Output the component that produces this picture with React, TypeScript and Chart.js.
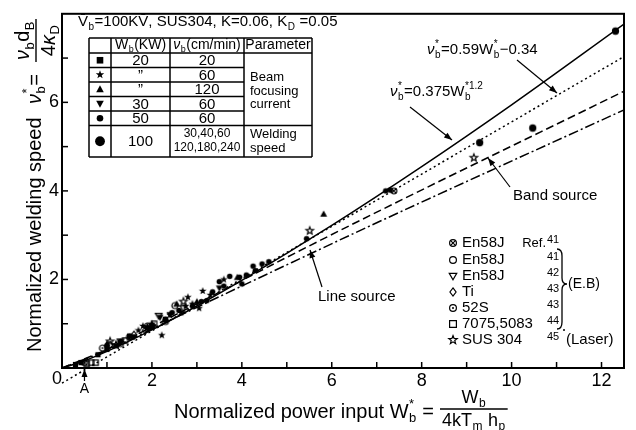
import React, { useEffect, useRef } from "react";
import { Chart, registerables } from "chart.js";
Chart.register(...registerables);

const FONT = '"Liberation Sans", Arial, sans-serif';

// axes
const X_MIN = 0;
const X_MAX = 12.5;
const Y_MIN = 0;
const Y_MAX = 8;
const xTickValues = [2, 4, 6, 8, 10, 12];
const yTickValues = [2, 4, 6];

// fitted / theoretical curves
const powerLawW = [0, 0.5, 1, 2, 3, 4, 6, 8, 10, 12.5];
const powerLawV = [0, 0.163, 0.375, 0.861, 1.401, 1.979, 3.22, 4.547, 5.943, 7.767];
const linearFitW = [0, 12.5];
const linearFitV = [-0.34, 7.035];
const bandW = [0, 1, 2, 3, 5, 7, 12.5];
const bandV = [0, 0.42, 0.93, 1.45, 2.5, 3.52, 6.25];
const lineSrcW = [0, 1, 2, 3, 5, 7, 12.5];
const lineSrcV = [0, 0.4, 0.88, 1.37, 2.33, 3.28, 5.83];

// SUS304 data (filled symbols)
const sqW = [0.3, 0.42, 0.8, 1.0, 1.2, 1.5, 1.9, 2.3];
const sqV = [0.08, 0.12, 0.3, 0.42, 0.5, 0.72, 0.9, 1.1];
const starW = [1.7, 1.8, 2.0, 2.22, 2.4, 2.65, 2.75, 2.8, 2.9, 3.05, 3.13, 3.3, 3.6];
const starV = [0.85, 0.95, 1.0, 0.74, 1.2, 1.25, 1.4, 1.6, 1.45, 1.35, 1.74, 1.65, 2.0];
const triW = [1.0, 1.9, 2.55, 3.0, 3.9, 5.82];
const triV = [0.55, 0.95, 1.45, 1.5, 2.05, 3.48];
const dtriW = [1.6, 2.18, 2.4, 3.5];
const dtriV = [0.7, 1.14, 1.2, 1.8];
const dotW = [1.0, 1.3, 2.0, 2.3, 2.45, 2.6, 2.9, 3.1, 3.22, 3.35, 3.5, 3.6, 3.73, 3.95, 4.0, 4.1, 4.25, 4.3, 4.45, 4.6, 5.44, 7.2, 7.3];
const dotV = [0.5, 0.6, 0.93, 1.1, 1.25, 1.3, 1.4, 1.5, 1.52, 1.72, 1.95, 1.85, 2.07, 2.05, 1.9, 2.1, 2.3, 2.2, 2.35, 2.4, 2.92, 4.0, 4.02];
const bigDotW = [9.29, 10.47, 12.31];
const bigDotV = [5.09, 5.42, 7.61];

// literature data (open symbols)
const en58xW = [0.5, 2.0, 7.38];
const en58xV = [0.12, 0.95, 4.0];
const en58oW = [1.5, 1.9, 2.51];
const en58oV = [0.7, 0.95, 1.41];
const en58vW = [1.3, 2.15, 2.7];
const en58vV = [0.6, 1.18, 1.35];
const tiW = [1.07, 1.6, 1.85];
const tiV = [0.52, 0.75, 0.85];
const s52W = [0.9, 1.3, 2.3];
const s52V = [0.45, 0.55, 1.05];
const alW = [0.55, 0.65, 0.75, 1.4, 2.05];
const alV = [0.1, 0.12, 0.12, 0.62, 1.0];
const susLaserW = [1.07, 1.2, 2.7, 5.51, 9.16];
const susLaserV = [0.6, 0.52, 1.5, 3.1, 4.75];

// table & legend text
const tableKinds = ["sq", "star", "tri", "dtri", "dot", "bigdot"];
const tablePower = ["20", "\u201D", "\u201D", "30", "50", "100"];
const tableSpeed = ["20", "60", "120", "60", "60", ""];
const tableSpeedMulti = ["30,40,60", "120,180,240"];
const legendKinds = ["oxc", "oc", "odtri", "odia", "odot", "osq", "ostar"];
const legendNames = ["En58J", "En58J", "En58J", "Ti", "52S", "7075,5083", "SUS 304"];
const legendRefs = ["41", "41", "42", "43", "43", "44", "45"];

type Kind = string;

function starPath(ctx: CanvasRenderingContext2D, cx: number, cy: number, R: number, r: number) {
  for (let i = 0; i < 10; i++) {
    const a = -Math.PI / 2 + (i * Math.PI) / 5;
    const rr = i % 2 === 0 ? R : r;
    const x = cx + rr * Math.cos(a);
    const y = cy + rr * Math.sin(a);
    if (i === 0) ctx.moveTo(x, y);
    else ctx.lineTo(x, y);
  }
  ctx.closePath();
}

function drawSym(ctx: CanvasRenderingContext2D, kind: Kind, cx: number, cy: number, s: number) {
  ctx.save();
  ctx.fillStyle = "#000";
  ctx.strokeStyle = "#000";
  ctx.lineWidth = 1.2;
  ctx.beginPath();
  switch (kind) {
    case "sq":
      ctx.rect(cx - s, cy - s, 2 * s, 2 * s);
      ctx.fill();
      break;
    case "star":
      starPath(ctx, cx, cy, s * 1.35, s * 0.55);
      ctx.fill();
      break;
    case "tri":
      ctx.moveTo(cx, cy - s * 1.2);
      ctx.lineTo(cx + s * 1.15, cy + s * 0.9);
      ctx.lineTo(cx - s * 1.15, cy + s * 0.9);
      ctx.closePath();
      ctx.fill();
      break;
    case "dtri":
      ctx.moveTo(cx, cy + s * 1.2);
      ctx.lineTo(cx + s * 1.15, cy - s * 0.9);
      ctx.lineTo(cx - s * 1.15, cy - s * 0.9);
      ctx.closePath();
      ctx.fill();
      break;
    case "dot":
      ctx.arc(cx, cy, s, 0, Math.PI * 2);
      ctx.fill();
      break;
    case "bigdot":
      ctx.arc(cx, cy, s * 1.4, 0, Math.PI * 2);
      ctx.fill();
      break;
    case "oxc":
      ctx.arc(cx, cy, s, 0, Math.PI * 2);
      ctx.stroke();
      ctx.beginPath();
      ctx.moveTo(cx - s * 0.7, cy - s * 0.7);
      ctx.lineTo(cx + s * 0.7, cy + s * 0.7);
      ctx.moveTo(cx + s * 0.7, cy - s * 0.7);
      ctx.lineTo(cx - s * 0.7, cy + s * 0.7);
      ctx.stroke();
      break;
    case "oc":
      ctx.arc(cx, cy, s, 0, Math.PI * 2);
      ctx.stroke();
      break;
    case "odtri":
      ctx.moveTo(cx, cy + s * 1.1);
      ctx.lineTo(cx + s * 1.1, cy - s * 0.8);
      ctx.lineTo(cx - s * 1.1, cy - s * 0.8);
      ctx.closePath();
      ctx.stroke();
      break;
    case "odia":
      ctx.moveTo(cx, cy - s * 1.2);
      ctx.lineTo(cx + s * 0.9, cy);
      ctx.lineTo(cx, cy + s * 1.2);
      ctx.lineTo(cx - s * 0.9, cy);
      ctx.closePath();
      ctx.stroke();
      break;
    case "odot":
      ctx.arc(cx, cy, s, 0, Math.PI * 2);
      ctx.stroke();
      ctx.beginPath();
      ctx.arc(cx, cy, s * 0.3, 0, Math.PI * 2);
      ctx.fill();
      break;
    case "osq":
      ctx.rect(cx - s, cy - s, 2 * s, 2 * s);
      ctx.stroke();
      break;
    case "ostar":
      starPath(ctx, cx, cy, s * 1.3, s * 0.55);
      ctx.stroke();
      break;
  }
  ctx.restore();
}

function symCanvas(kind: Kind, s: number): HTMLCanvasElement {
  const size = Math.ceil(s * 3.2 + 4);
  const c = document.createElement("canvas");
  c.width = size;
  c.height = size;
  const g = c.getContext("2d")!;
  drawSym(g, kind, size / 2, size / 2, s);
  return c;
}

type Seg = string | { it: string } | { sub?: string; sup?: string };

function drawRich(ctx: CanvasRenderingContext2D, segs: Seg[], x: number, y: number, size: number, draw = true): number {
  let cx = x;
  ctx.textBaseline = "middle";
  ctx.textAlign = "left";
  for (const seg of segs) {
    if (typeof seg === "string") {
      ctx.font = `${size}px ${FONT}`;
      if (draw) ctx.fillText(seg, cx, y);
      cx += ctx.measureText(seg).width;
    } else if ("it" in seg) {
      ctx.font = `italic ${size}px ${FONT}`;
      if (draw) ctx.fillText(seg.it, cx, y);
      cx += ctx.measureText(seg.it).width;
    } else {
      const ss = Math.round(size * 0.64);
      ctx.font = `${ss}px ${FONT}`;
      let w = 0;
      if (seg.sub) {
        if (draw) ctx.fillText(seg.sub, cx + 0.5, y + size * 0.32);
        w = Math.max(w, ctx.measureText(seg.sub).width);
      }
      if (seg.sup) {
        if (draw) ctx.fillText(seg.sup, cx + 0.5, y - size * 0.4);
        w = Math.max(w, ctx.measureText(seg.sup).width);
      }
      cx += w + 1;
    }
  }
  return cx - x;
}

function drawFrac(ctx: CanvasRenderingContext2D, num: Seg[], den: Seg[], x: number, y: number, size: number): number {
  const wn = drawRich(ctx, num, 0, 0, size, false);
  const wd = drawRich(ctx, den, 0, 0, size, false);
  const w = Math.max(wn, wd) + 4;
  drawRich(ctx, num, x + (w - wn) / 2, y - size * 0.62, size);
  drawRich(ctx, den, x + (w - wd) / 2, y + size * 0.66, size);
  ctx.beginPath();
  ctx.lineWidth = 1.4;
  ctx.moveTo(x, y);
  ctx.lineTo(x + w, y);
  ctx.stroke();
  return w;
}

function arrow(ctx: CanvasRenderingContext2D, x1: number, y1: number, x2: number, y2: number) {
  ctx.beginPath();
  ctx.lineWidth = 1.2;
  ctx.moveTo(x1, y1);
  ctx.lineTo(x2, y2);
  ctx.stroke();
  const a = Math.atan2(y2 - y1, x2 - x1);
  const L = 8, W = 3;
  ctx.beginPath();
  ctx.moveTo(x2, y2);
  ctx.lineTo(x2 - L * Math.cos(a) + W * Math.sin(a), y2 - L * Math.sin(a) - W * Math.cos(a));
  ctx.lineTo(x2 - L * Math.cos(a) - W * Math.sin(a), y2 - L * Math.sin(a) + W * Math.cos(a));
  ctx.closePath();
  ctx.fill();
}

function line(ctx: CanvasRenderingContext2D, x1: number, y1: number, x2: number, y2: number) {
  ctx.beginPath();
  ctx.moveTo(x1, y1);
  ctx.lineTo(x2, y2);
  ctx.stroke();
}

const NU: Seg = { it: "\u03BD" };
const BS: Seg = { sub: "b", sup: "*" };

const overlay = {
  id: "overlay",
  afterDraw(chart: any) {
    const ctx: CanvasRenderingContext2D = chart.ctx;
    const { left, right, top, bottom } = chart.chartArea;
    const xs = chart.scales.x;
    const ys = chart.scales.y;
    ctx.save();
    ctx.strokeStyle = "#000";
    ctx.fillStyle = "#000";

    // frame
    ctx.lineWidth = 2;
    ctx.strokeRect(left, top, right - left, bottom - top);
    // inward ticks
    ctx.lineWidth = 1.5;
    for (let v = 1; v <= 12; v++) {
      const px = xs.getPixelForValue(v);
      line(ctx, px, bottom, px, bottom - 6);
    }
    for (let v = 1; v <= 7; v++) {
      const py = ys.getPixelForValue(v);
      line(ctx, left, py, left + 6, py);
    }
    // corner zero
    ctx.font = `18px ${FONT}`;
    ctx.textAlign = "center";
    ctx.textBaseline = "middle";
    ctx.fillText("0", left - 5, bottom + 11);

    // "A" marker
    const ax = xs.getPixelForValue(0.5);
    arrow(ctx, ax, bottom + 13, ax, bottom + 1);
    ctx.font = `14px ${FONT}`;
    ctx.textAlign = "center";
    ctx.fillText("A", ax, bottom + 21);

    // x title
    let cx = 174;
    const ty = 412;
    cx += drawRich(ctx, ["Normalized power input W", BS, " ="], cx, ty, 20);
    drawFrac(ctx, ["W", { sub: "b" }], ["4kT", { sub: "m" }, " h", { sub: "p" }], cx + 6, ty - 3, 18);

    // y title (rotated)
    ctx.save();
    ctx.translate(35, 352);
    ctx.rotate(-Math.PI / 2);
    drawRich(ctx, ["Normalized welding speed"], 0, 0, 20);
    drawRich(ctx, [NU, BS, "="], 248, 0, 20);
    drawFrac(ctx, [NU, { sub: "b" }, "d", { sub: "B" }], ["4", { it: "\u03BA" }, { sub: "D" }], 290, 1, 20);
    ctx.restore();

    // title line of table
    drawRich(ctx, ["V\u0304", { sub: "b" }, "=100KV\u0304, SUS304, K=0.06, K", { sub: "D" }, " =0.05"], 78, 22, 15);

    // table
    const cols = [89, 111, 170, 244, 312];
    const rows = [38, 53, 67.5, 82, 96.5, 111, 125.5, 157];
    ctx.lineWidth = 1.5;
    for (const c of cols) line(ctx, c, rows[0], c, rows[7]);
    line(ctx, cols[0], rows[0], cols[4], rows[0]);
    line(ctx, cols[0], rows[1], cols[4], rows[1]);
    for (let i = 2; i <= 5; i++) line(ctx, cols[0], rows[i], cols[3], rows[i]);
    line(ctx, cols[0], rows[6], cols[4], rows[6]);
    line(ctx, cols[0], rows[7], cols[4], rows[7]);

    ctx.textAlign = "left";
    const hy = (rows[0] + rows[1]) / 2;
    const h1: Seg[] = ["W", { sub: "b" }, "(KW)"];
    const h2: Seg[] = [NU, { sub: "b" }, "(cm/min)"];
    const w1 = drawRich(ctx, h1, 0, 0, 14, false);
    drawRich(ctx, h1, (cols[1] + cols[2]) / 2 - w1 / 2, hy, 14);
    const w2 = drawRich(ctx, h2, 0, 0, 14, false);
    drawRich(ctx, h2, (cols[2] + cols[3]) / 2 - w2 / 2, hy, 14);
    const w3 = drawRich(ctx, ["Parameter"], 0, 0, 14, false);
    drawRich(ctx, ["Parameter"], (cols[3] + cols[4]) / 2 - w3 / 2, hy, 14);

    for (let i = 0; i < 6; i++) {
      const yc = (rows[i + 1] + rows[i + 2]) / 2;
      drawSym(ctx, tableKinds[i], (cols[0] + cols[1]) / 2, yc, tableKinds[i] === "bigdot" ? 3.5 : 3.3);
      ctx.font = `15px ${FONT}`;
      ctx.textAlign = "center";
      ctx.textBaseline = "middle";
      ctx.fillText(tablePower[i], (cols[1] + cols[2]) / 2, yc + 1);
      if (tableSpeed[i]) ctx.fillText(tableSpeed[i], (cols[2] + cols[3]) / 2, yc + 1);
    }
    ctx.font = `12px ${FONT}`;
    ctx.fillText(tableSpeedMulti[0], (cols[2] + cols[3]) / 2, 134);
    ctx.fillText(tableSpeedMulti[1], (cols[2] + cols[3]) / 2, 148);
    ctx.textAlign = "left";
    ctx.font = `13px ${FONT}`;
    ctx.fillText("Beam", 250, 77);
    ctx.fillText("focusing", 250, 91);
    ctx.fillText("current", 250, 104);
    ctx.fillText("Welding", 250, 134);
    ctx.fillText("speed", 250, 148);

    // legend
    const ly = [243, 260, 276, 292, 308, 324, 340];
    for (let i = 0; i < legendKinds.length; i++) {
      drawSym(ctx, legendKinds[i], 453, ly[i], 3.4);
      ctx.font = `15px ${FONT}`;
      ctx.textAlign = "left";
      ctx.textBaseline = "middle";
      ctx.fillText(legendNames[i], 462, ly[i]);
      ctx.font = `11px ${FONT}`;
      ctx.fillText(legendRefs[i], 547, ly[i] - 3);
    }
    ctx.font = `13px ${FONT}`;
    ctx.textAlign = "right";
    ctx.fillText("Ref.", 546, ly[0]);
    ctx.textAlign = "left";
    // brace
    ctx.lineWidth = 1.3;
    ctx.beginPath();
    ctx.moveTo(557, 249);
    ctx.quadraticCurveTo(562, 249, 562, 256);
    ctx.lineTo(562, 278);
    ctx.quadraticCurveTo(562, 284, 567, 284);
    ctx.quadraticCurveTo(562, 284, 562, 290);
    ctx.lineTo(562, 322);
    ctx.quadraticCurveTo(562, 329, 557, 329);
    ctx.stroke();
    ctx.font = `14px ${FONT}`;
    ctx.fillText("(E.B)", 568, 284);
    ctx.font = `15px ${FONT}`;
    ctx.fillText("(Laser)", 566, 340);
    ctx.beginPath();
    ctx.arc(564, 330, 1, 0, Math.PI * 2);
    ctx.fill();

    // annotations
    drawRich(ctx, [NU, BS, "=0.59W", BS, "\u22120.34"], 427, 50, 15);
    arrow(ctx, 517, 60, 557, 93);
    drawRich(ctx, [NU, BS, "=0.375W", { sub: "b", sup: "*1.2" }], 390, 92, 15);
    arrow(ctx, 410, 107, 452, 140);
    ctx.font = `15px ${FONT}`;
    ctx.textBaseline = "middle";
    ctx.fillText("Band source", 513, 196);
    arrow(ctx, 510, 187, 488, 158);
    ctx.fillText("Line source", 318, 297);
    arrow(ctx, 322, 287, 310, 250);

    ctx.restore();
  },
};

function pts(w: number[], v: number[]) {
  return w.map((x, i) => ({ x, y: v[i] }));
}

export default function App() {
  const ref = useRef<HTMLCanvasElement>(null);
  useEffect(() => {
    if (!ref.current) return;
    const S = 3;
    const pointSet = (w: number[], v: number[], kind: Kind, s = S) => ({
      data: pts(w, v),
      showLine: false,
      pointStyle: symCanvas(kind, s),
      pointRadius: 4,
    });
    const curve = (w: number[], v: number[], dash: number[], extra: any = {}) => ({
      data: pts(w, v),
      showLine: true,
      pointRadius: 0,
      borderColor: "#000",
      borderWidth: 1.5,
      borderDash: dash,
      cubicInterpolationMode: "monotone",
      ...extra,
    });
    const chart = new Chart(ref.current, {
      type: "scatter",
      data: {
        datasets: [
          pointSet(sqW, sqV, "sq", 2.6),
          pointSet(starW, starV, "star"),
          pointSet(triW, triV, "tri"),
          pointSet(dtriW, dtriV, "dtri"),
          pointSet(dotW, dotV, "dot", 2.8),
          pointSet(bigDotW, bigDotV, "bigdot", 2.6),
          pointSet(en58xW, en58xV, "oxc"),
          pointSet(en58oW, en58oV, "oc"),
          pointSet(en58vW, en58vV, "odtri"),
          pointSet(tiW, tiV, "odia"),
          pointSet(s52W, s52V, "odot"),
          pointSet(alW, alV, "osq", 2.6),
          pointSet(susLaserW, susLaserV, "ostar"),
          curve(powerLawW, powerLawV, []),
          curve(linearFitW, linearFitV, [2, 3], { clip: false }),
          curve(bandW, bandV, [8, 4]),
          curve(lineSrcW, lineSrcV, [10, 3, 2, 3]),
        ] as any,
      },
      options: {
        animation: false,
        responsive: false,
        devicePixelRatio: 1,
        layout: { padding: { left: 0, right: 12, top: 11, bottom: 0 } },
        plugins: { legend: { display: false }, tooltip: { enabled: false } },
        scales: {
          x: {
            type: "linear",
            min: X_MIN,
            max: X_MAX,
            afterFit: (s: any) => {
              s.height = 62;
            },
            grid: { display: false, drawTicks: false },
            border: { display: false },
            ticks: {
              stepSize: 1,
              autoSkip: false,
              includeBounds: false,
              maxRotation: 0,
              padding: 2,
              color: "#000",
              font: { family: FONT, size: 18 },
              callback: (v: any) => (xTickValues.includes(Number(v)) ? String(v) : ""),
            },
          },
          y: {
            type: "linear",
            min: Y_MIN,
            max: Y_MAX,
            afterFit: (s: any) => {
              s.width = 62;
            },
            grid: { display: false, drawTicks: false },
            border: { display: false },
            ticks: {
              stepSize: 1,
              autoSkip: false,
              includeBounds: false,
              padding: 3,
              color: "#000",
              font: { family: FONT, size: 18 },
              callback: (v: any) => (yTickValues.includes(Number(v)) ? String(v) : ""),
            },
          },
        },
      } as any,
      plugins: [overlay],
    });
    return () => chart.destroy();
  }, []);
  return (
    <div style={{ position: "fixed", left: 0, top: 0, width: 636, height: 430, background: "#fff" }}>
      <canvas ref={ref} width={636} height={430} style={{ display: "block", width: 636, height: 430 }} />
    </div>
  );
}
